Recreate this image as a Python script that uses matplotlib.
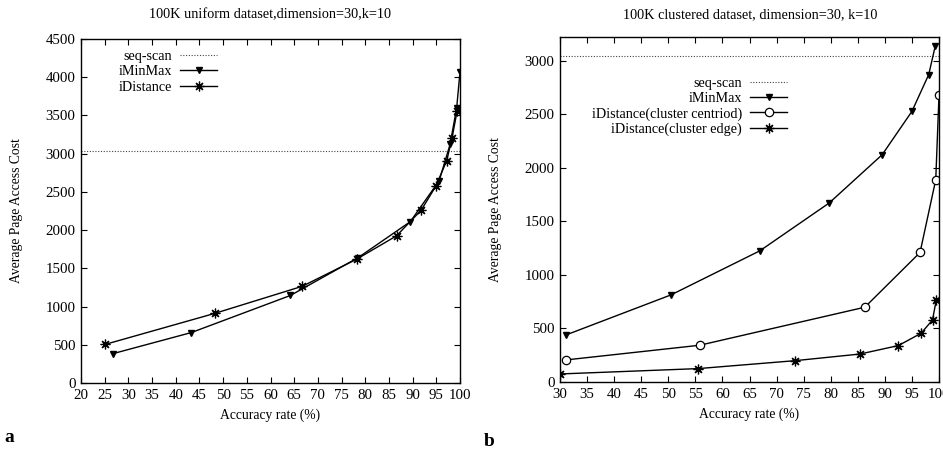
import matplotlib
matplotlib.use("Agg")
import matplotlib.pyplot as plt

plt.rcParams['font.family'] = ['Liberation Serif', 'DejaVu Serif']
plt.rcParams['font.size'] = 10

# uniform dataset
uni_minmax_x = [26.8, 43.3, 64.2, 78.5, 89.5, 95.6, 97.9, 99.3, 100.0]
uni_minmax_y = [385, 660, 1145, 1640, 2110, 2645, 3120, 3600, 4070]
uni_idist_x = [25.1, 48.2, 66.7, 78.2, 86.6, 91.8, 94.9, 97.2, 98.3, 99.4]
uni_idist_y = [505, 910, 1265, 1620, 1925, 2260, 2575, 2910, 3200, 3560]

# clustered dataset
clu_minmax_x = [31.1, 50.5, 66.9, 79.7, 89.5, 95.0, 98.1, 99.3]
clu_minmax_y = [439, 813, 1224, 1670, 2121, 2526, 2869, 3134]
clu_centroid_x = [31.1, 55.8, 86.3, 96.5, 99.4, 100.0]
clu_centroid_y = [206, 343, 698, 1209, 1888, 2676]
clu_edge_x = [30.0, 55.5, 73.4, 85.4, 92.5, 96.7, 98.8, 99.5]
clu_edge_y = [75, 125, 199, 261, 340, 455, 579, 766]

seq_scan = 3040

fig = plt.figure(figsize=(9.43, 4.54), dpi=100)
ax1 = fig.add_axes([81/943, 71/454, 379/943, 344/454])
ax2 = fig.add_axes([560/943, 72/454, 379/943, 345/454])

star = (8, 2, 0)
dots = (0, (1, 1.5))


def style(ax):
    ax.tick_params(direction='in', top=True, right=True, length=4, width=0.8,
                   labelsize=10.7, pad=4)
    for s in ax.spines.values():
        s.set_linewidth(1.0)


# left panel
ax1.axhline(seq_scan, color='#444444', lw=0.8, ls=dots, label='seq-scan')
ax1.plot(uni_minmax_x, uni_minmax_y, color='black', lw=1, marker='v',
         ms=5, label='iMinMax')
ax1.plot(uni_idist_x, uni_idist_y, color='black', lw=1, marker=star,
         ms=7, mew=0.9, label='iDistance')
ax1.set_xlim(20, 100)
ax1.set_ylim(0, 4500)
ax1.set_xticks(range(20, 101, 5))
ax1.set_yticks(range(0, 4501, 500))
style(ax1)
ax1.set_xlabel('Accuracy rate (%)', labelpad=5, fontsize=9.8)
ax1.set_ylabel('Average Page Access Cost', labelpad=16, fontsize=9.8)
ax1.legend(loc='upper right', bbox_to_anchor=(0.378, 0.99), frameon=False,
           markerfirst=False, handlelength=2.6, handletextpad=0.6,
           labelspacing=0.2, borderpad=0, fontsize=10.2)

# right panel
ax2.axhline(seq_scan, color='#444444', lw=0.8, ls=dots, label='seq-scan')
ax2.plot(clu_minmax_x, clu_minmax_y, color='black', lw=1, marker='v',
         ms=5, label='iMinMax')
ax2.plot(clu_centroid_x, clu_centroid_y, color='black', lw=1, marker='o',
         ms=6, mfc='white', mew=0.9, label='iDistance(cluster centriod)')
ax2.plot(clu_edge_x, clu_edge_y, color='black', lw=1, marker=star,
         ms=7, mew=0.9, label='iDistance(cluster edge)')
ax2.set_xlim(30, 100)
ax2.set_ylim(0, 3220)
ax2.set_xticks(range(30, 101, 5))
ax2.set_yticks(range(0, 3001, 500))
style(ax2)
ax2.set_xlabel('Accuracy rate (%)', labelpad=5, fontsize=9.8)
ax2.set_ylabel('Average Page Access Cost', labelpad=16, fontsize=9.8)
ax2.legend(loc='upper right', bbox_to_anchor=(0.618, 0.905), frameon=False,
           markerfirst=False, handlelength=2.6, handletextpad=0.6,
           labelspacing=0.15, borderpad=0, fontsize=10.2)

fig.text(270/943, 1 - 15/454, '100K uniform dataset,dimension=30,k=10',
         ha='center', va='center', fontsize=10.3)
fig.text(750/943, 1 - 15/454, '100K clustered dataset, dimension=30, k=10',
         ha='center', va='center', fontsize=10.3)
fig.text(9/943, 1 - 438/454, 'a', ha='center', va='center',
         fontsize=14, fontweight='bold')
fig.text(489/943, 1 - 441/454, 'b', ha='center', va='center',
         fontsize=14, fontweight='bold')

fig.savefig('out.png', dpi=100)
